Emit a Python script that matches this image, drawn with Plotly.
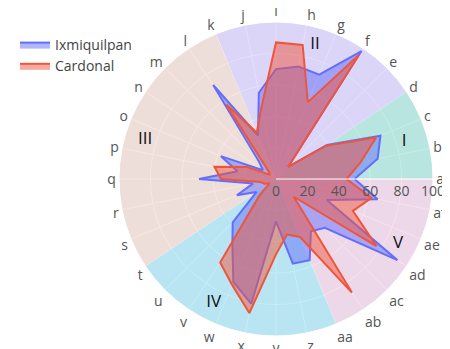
import plotly.graph_objects as go

categories = ["a","b","c","d","e","f","g","h","i","j","k","l","m","n","o","p",
              "q","r","s","t","u","v","w","x","y","z","aa","ab","ac","ad","ae","af"]

ixmiquilpan = [50,66,72,39,11,98,72,73,70,56,30,72,15,10,38,25,
               49,15,27,15,39,50,71,81,27,55,56,40,44,93,35,66]
cardonal    = [45,55,69,38,11,95,53,87,87,47,32,57,6,5,20,40,
               35,10,8,5,15,64,73,87,48,36,40,87,16,77,53,62]

region_names = ["I","II","III","IV","V"]
region_start = ["a","d","k","t","aa"]     # first boundary category of each region
region_end   = ["d","k","t","aa","a"]
region_colors = ["rgba(140,222,200,0.5)","rgba(210,190,250,0.5)","rgba(245,208,190,0.5)",
                 "rgba(140,222,236,0.5)","rgba(245,195,222,0.5)"]
label_r     = [85, 89, 87, 88, 88]
label_theta = [16.3, 73.8, 163.4, 243.2, 332.0]

step = 360.0 / len(categories)
ang = {c: i*step for i, c in enumerate(categories)}
theta = [ang[c] for c in categories]

W, H = 442, 341
fig = go.Figure()

for name, s, e, col in zip(region_names, region_start, region_end, region_colors):
    a0 = ang[s]; a1 = ang[e] if ang[e] > a0 else ang[e] + 360
    fig.add_trace(go.Barpolar(r=[100], theta=[(a0+a1)/2], width=[a1-a0], base=0,
                              marker=dict(color=col, line=dict(width=0)),
                              showlegend=False, hoverinfo="skip"))

fig.add_trace(go.Scatterpolar(r=ixmiquilpan + [ixmiquilpan[0]], theta=theta + [theta[0]],
                              name="Ixmiquilpan", mode="lines", fill="toself", legendgroup="g1",
                              line=dict(color="#636EFA", width=2),
                              fillcolor="rgba(99,110,250,0.5)"))
fig.add_trace(go.Scatterpolar(r=cardonal + [cardonal[0]], theta=theta + [theta[0]],
                              name="Cardonal", mode="lines", fill="toself", legendgroup="g2",
                              line=dict(color="#EF553B", width=2),
                              fillcolor="rgba(239,85,59,0.5)"))

fig.add_trace(go.Scatterpolar(r=label_r, theta=label_theta, mode="text", text=region_names,
                              textfont=dict(size=17, color="#111"), showlegend=False,
                              hoverinfo="skip"))

fig.update_layout(
    width=W, height=H,
    margin=dict(l=0, r=0, t=0, b=0),
    paper_bgcolor="white",
    font=dict(family="Open Sans, DejaVu Sans, sans-serif", size=13, color="#444"),
    showlegend=True,
    legend=dict(x=7/W, y=1-21/H, xanchor="left", yanchor="top", bgcolor="rgba(0,0,0,0)",
                tracegroupgap=0, font=dict(size=14, color="#444")),
    polar=dict(
        domain=dict(x=[111/W, 425/W], y=[13/H, 327/H]),
        bgcolor="#E5ECF6",
        angularaxis=dict(type="linear", thetaunit="degrees", rotation=0,
                         direction="counterclockwise", tickmode="array",
                         tickvals=theta, ticktext=categories, showline=True,
                         linecolor="white", gridcolor="white", ticks="",
                         tickfont=dict(size=14, color="#555")),
        radialaxis=dict(range=[0, 100], tickvals=[0,20,40,60,80,100], angle=0,
                        showline=True, linecolor="white", gridcolor="white",
                        ticks="", tickfont=dict(size=14, color="#555")),
    ),
)

fig.write_html("out.html")
